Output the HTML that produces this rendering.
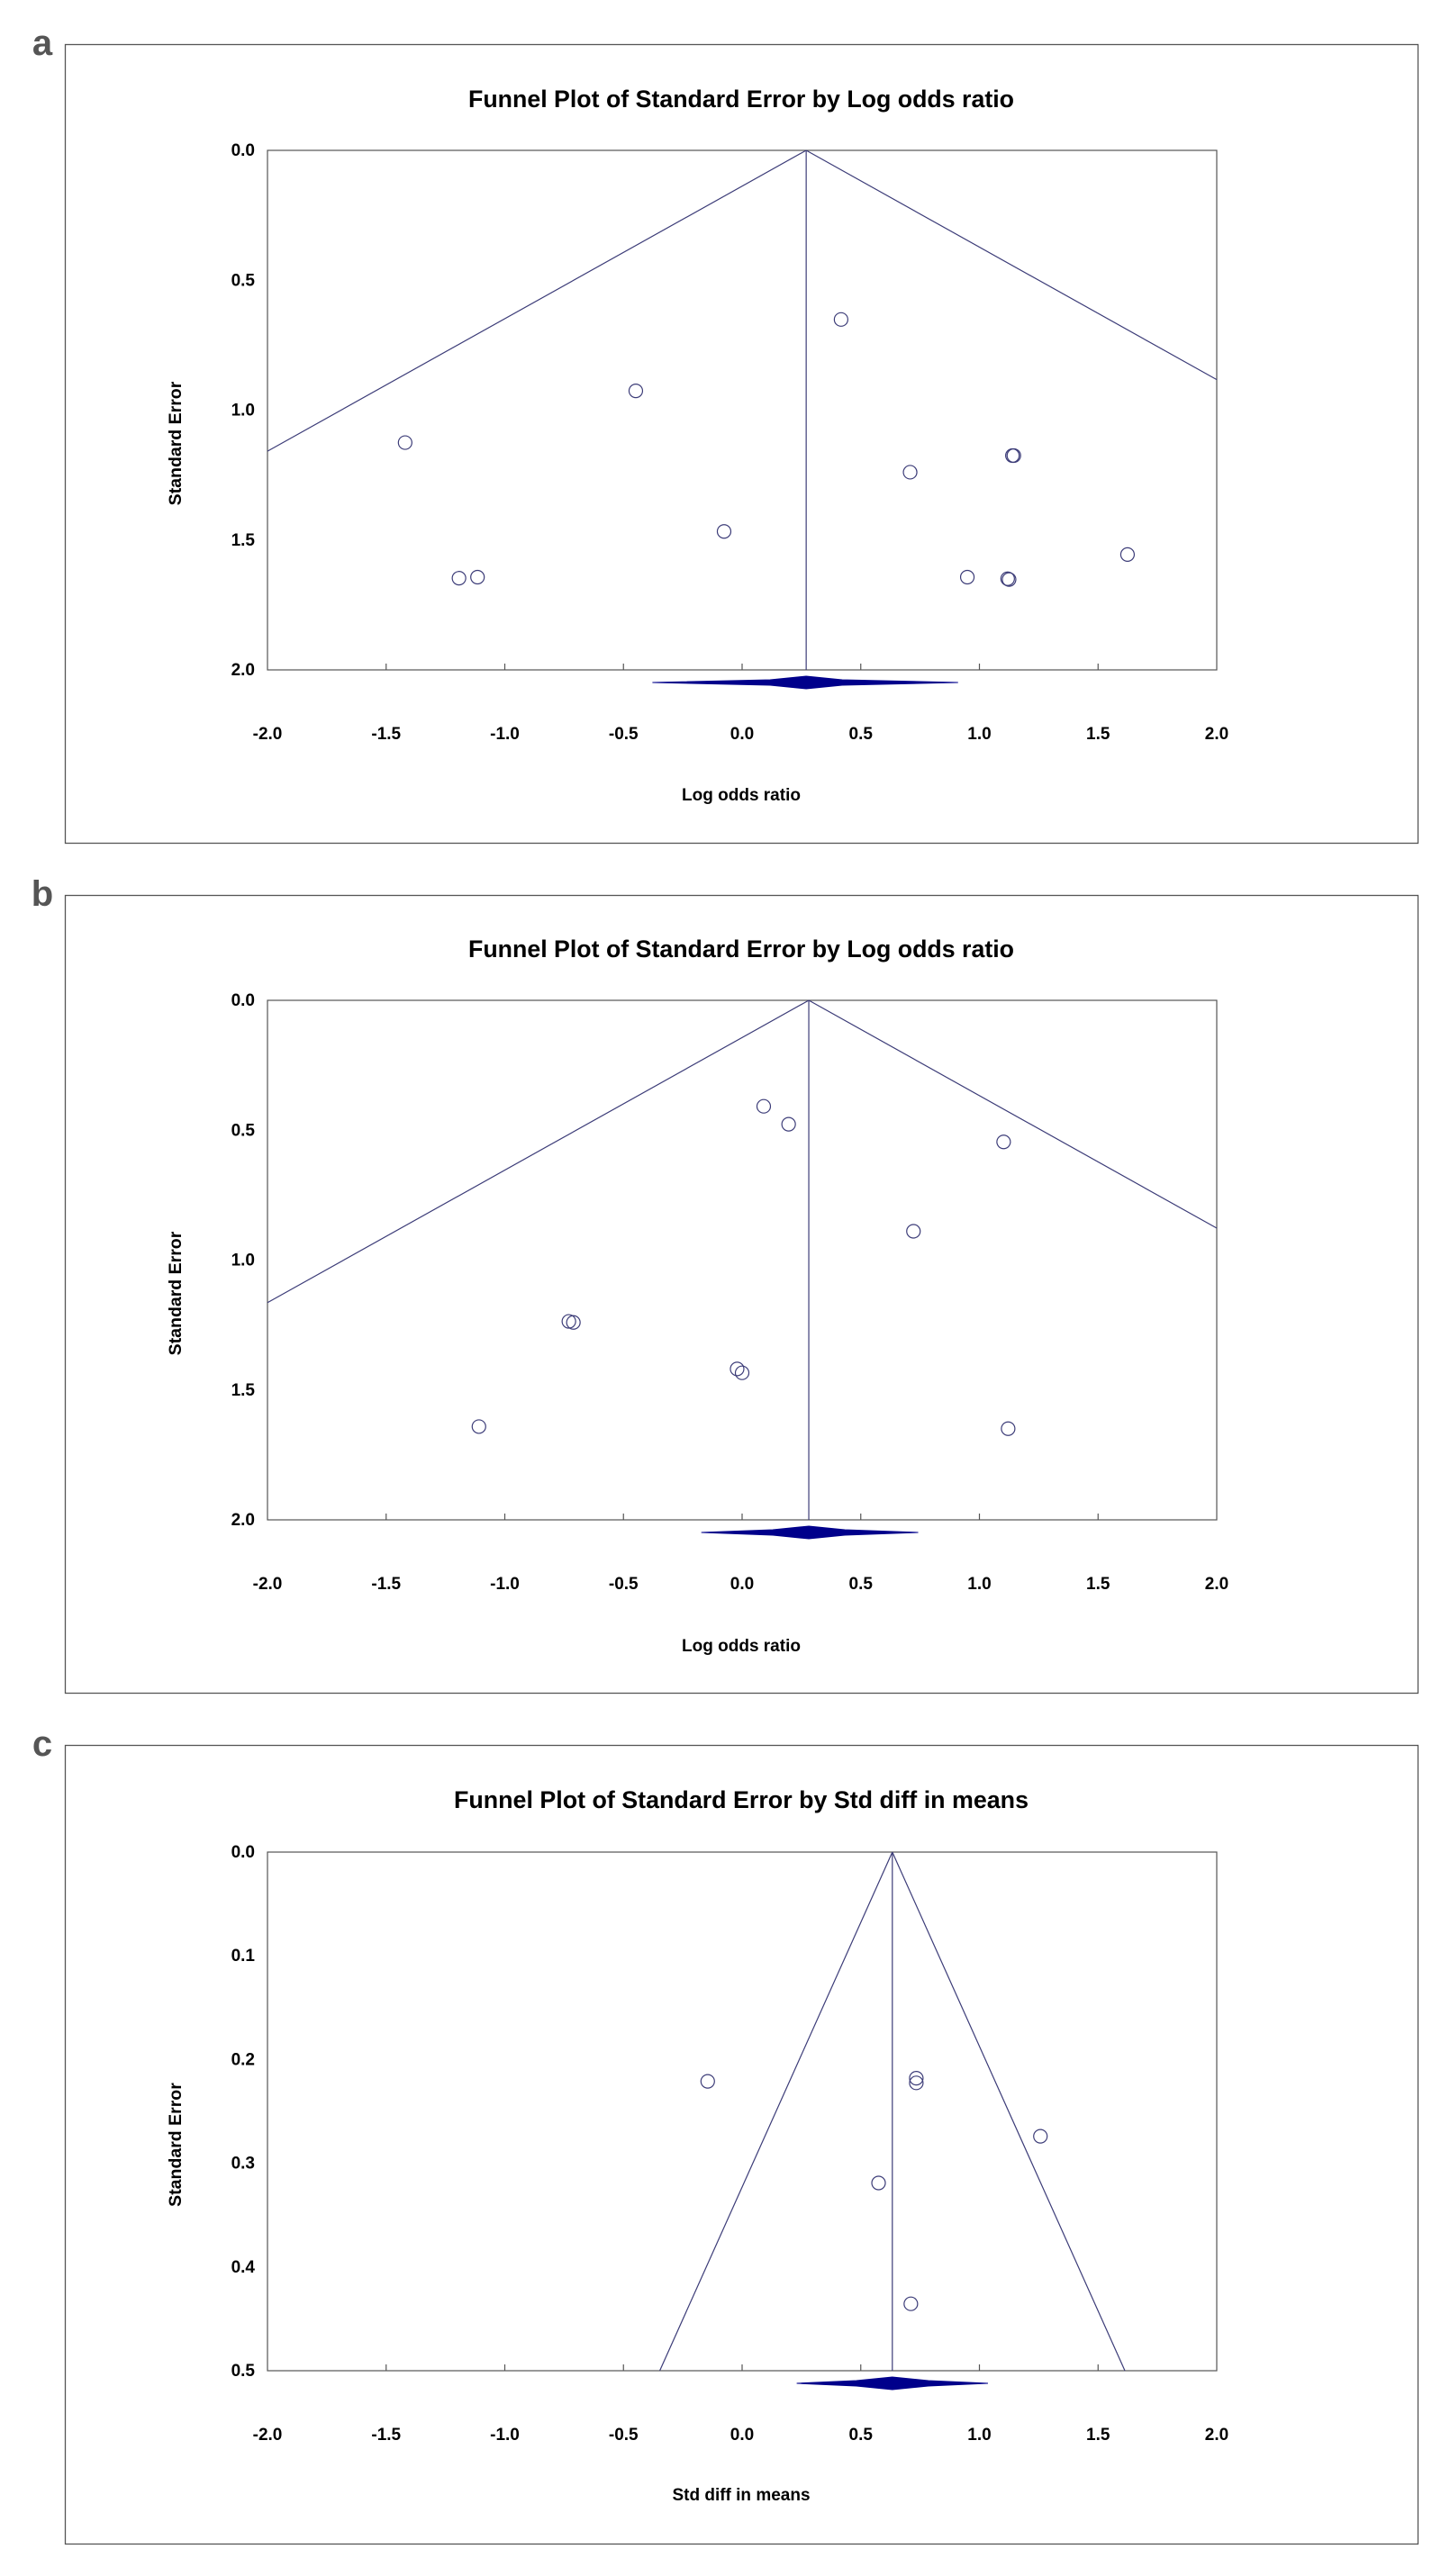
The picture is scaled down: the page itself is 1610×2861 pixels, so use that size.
<!DOCTYPE html>
<html><head><meta charset="utf-8"><style>
html,body{margin:0;padding:0;background:#fff;}
svg{display:block;}
</style></head><body>
<svg id="fig" width="1610" height="2861" viewBox="0 0 1610 2861" xmlns="http://www.w3.org/2000/svg"></svg>
<script>
// Panel a data
const aEffects = [-1.42, -0.448, -1.193, -1.115, -0.076, 0.417, 0.708, 1.139, 1.145, 0.949, 1.119, 1.125, 1.624];
const aSE = [1.125, 0.926, 1.647, 1.643, 1.467, 0.651, 1.239, 1.175, 1.175, 1.643, 1.649, 1.652, 1.556];
const aCenter = 0.27;
const aDiamond = [-0.378, 0.91];
// Panel b data
const bEffects = [0.091, 0.196, 1.102, 0.722, -0.730, -0.711, -0.021, 0.0, -1.109, 1.121];
const bSE = [0.408, 0.477, 0.545, 0.889, 1.236, 1.240, 1.419, 1.434, 1.641, 1.649];
const bCenter = 0.281;
const bDiamond = [-0.172, 0.742];
// Panel c data
const cEffects = [-0.145, 0.734, 0.734, 1.257, 0.575, 0.711];
const cSE = [0.221, 0.218, 0.2225, 0.274, 0.319, 0.4355];
const cCenter = 0.633;
const cDiamond = [0.23, 1.036];
// Ticks
const xTicks = [-2.0, -1.5, -1.0, -0.5, 0.0, 0.5, 1.0, 1.5, 2.0];
const yTicksAB = [0.0, 0.5, 1.0, 1.5, 2.0];
const yTicksC = [0.0, 0.1, 0.2, 0.3, 0.4, 0.5];

const NS = "http://www.w3.org/2000/svg";
const svg = document.getElementById('fig');
const LINE = "#3c3c78";
function mk(tag, attrs, parent) {
  const e = document.createElementNS(NS, tag);
  for (const k in attrs) e.setAttribute(k, attrs[k]);
  (parent || svg).appendChild(e);
  return e;
}

function panel(cfg) {
  const g = mk('g', {});
  
  
  const fr = mk('rect', {x: 72.5, y: cfg.frameTop + 0.5, width: 1502, height: cfg.frameBot - cfg.frameTop, fill: 'none', stroke: '#555', 'stroke-width': 1.3}, g);
  
  
  const lt = mk('text', {x: 47, y: cfg.frameTop + 12, 'text-anchor': 'middle', 'font-family': 'Liberation Sans, sans-serif', 'font-weight': 'bold', 'font-size': 40, fill: '#555'}, g);
  lt.textContent = cfg.letter;
  
  

  const L = 297, R = 1351, T = cfg.top, B = cfg.bot;
  const xs = v => L + (v + 2) / 4 * (R - L);
  const ys = v => T + v / cfg.ymax * (B - T);

  const title = mk('text', {x: 823, y: cfg.titleY, 'text-anchor': 'middle', 'font-family': 'Liberation Sans Narrow, Liberation Sans, sans-serif', 'font-weight': 'bold', 'font-size': 27, fill: '#000', textLength: cfg.titleW, lengthAdjust: 'spacingAndGlyphs'}, g);
  title.textContent = cfg.title;
  
  

  const pa = mk('rect', {x: L, y: T, width: R - L, height: B - T, fill: 'none', stroke: '#555', 'stroke-width': 1.2}, g);
  
  

  const cx = xs(cfg.center), cy = ys(0);
  const k = 1.96;
  const lft = Math.max(-2, cfg.center - k * cfg.ymax);
  const lftSE = (cfg.center - lft) / k;
  const rgt = Math.min(2, cfg.center + k * cfg.ymax);
  const rgtSE = (rgt - cfg.center) / k;
  const fl = mk('line', {x1: cx, y1: cy, x2: xs(lft), y2: ys(lftSE), stroke: LINE, 'stroke-width': 1.2}, g);
  
  
  const frl = mk('line', {x1: cx, y1: cy, x2: xs(rgt), y2: ys(rgtSE), stroke: LINE, 'stroke-width': 1.2}, g);
  
  
  const cl = mk('line', {x1: cx, y1: T, x2: cx, y2: B, stroke: LINE, 'stroke-width': 1.2}, g);
  
  

  xTicks.forEach(t => {
    const x = xs(t);
    if (t > -2 && t < 2) {
      const tk = mk('line', {x1: x, y1: B, x2: x, y2: B - 7, stroke: '#555', 'stroke-width': 1.2}, g);
      
      
    }
    const tl = mk('text', {x: x, y: cfg.tickY, 'text-anchor': 'middle', 'font-family': 'Liberation Sans Narrow, Liberation Sans, sans-serif', 'font-weight': 'bold', 'font-size': 19, fill: '#000'}, g);
    tl.textContent = t.toFixed(1);
    
    
  });
  cfg.yTicks.forEach(t => {
    const yl = mk('text', {x: 283, y: ys(t) + 6, 'text-anchor': 'end', 'font-family': 'Liberation Sans Narrow, Liberation Sans, sans-serif', 'font-weight': 'bold', 'font-size': 19, fill: '#000'}, g);
    yl.textContent = t.toFixed(1);
    
    
  });
  const ymid = (T + B) / 2 + 37;
  const yt = mk('text', {x: 0, y: 0, transform: 'translate(201,' + ymid + ') rotate(-90)', 'text-anchor': 'middle', 'font-family': 'Liberation Sans, sans-serif', 'font-weight': 'bold', 'font-size': 19.5, fill: '#000'}, g);
  yt.textContent = 'Standard Error';
  
  
  const xt = mk('text', {x: 823, y: cfg.xTitleY, 'text-anchor': 'middle', 'font-family': 'Liberation Sans Narrow, Liberation Sans, sans-serif', 'font-weight': 'bold', 'font-size': 19, fill: '#000'}, g);
  xt.textContent = cfg.xTitle;
  
  

  const dy = B + 14, dx1 = xs(cfg.diamond[0]), dx2 = xs(cfg.diamond[1]);
  const dm = mk('polygon', {points: `${dx1},${dy} ${cx - 40},${dy - 3} ${cx},${dy - 7} ${cx + 40},${dy - 3} ${dx2},${dy} ${cx + 40},${dy + 3} ${cx},${dy + 7} ${cx - 40},${dy + 3}`, fill: '#00008b', stroke: '#00008b', 'stroke-width': 1}, g);
  
  

  cfg.eff.forEach((e, i) => {
    const c = mk('ellipse', {cx: xs(e), cy: ys(cfg.se[i]), rx: 7.5, ry: 7.5, fill: 'none', stroke: LINE, 'stroke-width': 1.2}, g);
    
    
  });
}

panel({letter: 'a', frameTop: 49, frameBot: 936, top: 167, bot: 744, ymax: 2, titleY: 119, titleW: 606, tickY: 821, xTitleY: 889,
  title: 'Funnel Plot of Standard Error by Log odds ratio', xTitle: 'Log odds ratio', yTicks: yTicksAB,
  eff: aEffects, se: aSE, center: aCenter, diamond: aDiamond});
panel({letter: 'b', frameTop: 994, frameBot: 1880, top: 1111, bot: 1688, ymax: 2, titleY: 1063, titleW: 606, tickY: 1765, xTitleY: 1834,
  title: 'Funnel Plot of Standard Error by Log odds ratio', xTitle: 'Log odds ratio', yTicks: yTicksAB,
  eff: bEffects, se: bSE, center: bCenter, diamond: bDiamond});
panel({letter: 'c', frameTop: 1938, frameBot: 2825, top: 2057, bot: 2633, ymax: 0.5, titleY: 2008, titleW: 638, tickY: 2710, xTitleY: 2777,
  title: 'Funnel Plot of Standard Error by Std diff in means', xTitle: 'Std diff in means', yTicks: yTicksC,
  eff: cEffects, se: cSE, center: cCenter, diamond: cDiamond});
</script>
</body></html>
